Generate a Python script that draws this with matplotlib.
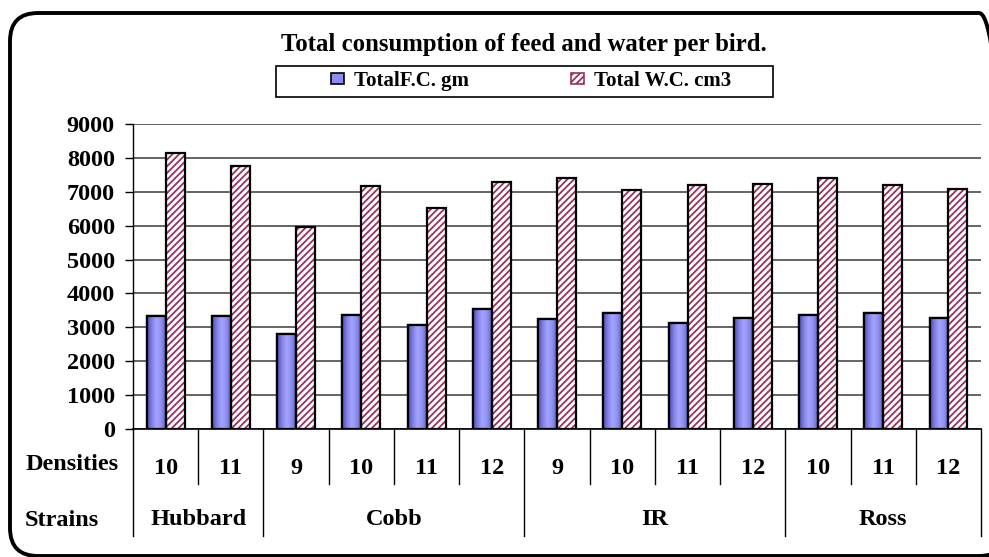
import numpy as np
import matplotlib
matplotlib.use('Agg')
import matplotlib.pyplot as plt
from matplotlib.colors import LinearSegmentedColormap
from matplotlib.patches import FancyBboxPatch, Rectangle
from matplotlib.lines import Line2D

plt.rcParams['font.family'] = ['Liberation Serif', 'DejaVu Serif']
plt.rcParams['font.weight'] = 'bold'
plt.rcParams['hatch.linewidth'] = 1.3

# data
strains = ['Hubbard', 'Cobb', 'IR', 'Ross']
densities = [[10, 11], [9, 10, 11, 12], [9, 10, 11, 12], [10, 11, 12]]
feed = [3330, 3330, 2800, 3360, 3070, 3540, 3250, 3430, 3130, 3290, 3350, 3410, 3290]
water = [8130, 7770, 5950, 7180, 6530, 7280, 7410, 7060, 7190, 7240, 7420, 7190, 7070]
yticks = [0, 1000, 2000, 3000, 4000, 5000, 6000, 7000, 8000, 9000]

W, H = 989, 557
fig = plt.figure(figsize=(W / 100, H / 100), dpi=100)
ax = fig.add_axes([0.1345, 0.2298, 0.8575, 0.5476])

n = len(feed)
x = np.arange(n)
w = 0.29
blue = '#8C8CF2'
maroon = '#9B2F5E'

b1 = ax.bar(x - w, feed, width=w, align='edge', color=blue,
            edgecolor='black', linewidth=1.6, zorder=3, label='TotalF.C. gm')
# hatch takes the edge colour, so draw maroon hatch first and the black outline on top
b2 = ax.bar(x, water, width=w, align='edge', facecolor='white', hatch='/////',
            edgecolor=maroon, linewidth=0, zorder=3, label='Total W.C. cm3')
for r in b2:
    ax.add_patch(Rectangle((r.get_x(), 0), r.get_width(), r.get_height(),
                           fill=False, edgecolor='black', linewidth=1.6, zorder=4))

# cylinder-like shading on the feed bars
ax.set_autoscale_on(False)
cyl = LinearSegmentedColormap.from_list('cyl', ['#4E4EA8', '#8080E6', '#A4A4FF', '#9090F4', '#6464C0'])
grad = np.linspace(0, 1, 64).reshape(1, -1)
for r in b1:
    ax.imshow(grad, extent=[r.get_x(), r.get_x() + r.get_width(), 0, r.get_height()],
              aspect='auto', cmap=cyl, zorder=3.5, interpolation='bilinear')
    ax.add_patch(Rectangle((r.get_x(), 0), r.get_width(), r.get_height(),
                           fill=False, edgecolor='black', linewidth=1.6, zorder=4))

ax.set_xlim(-0.5, n - 0.5)
ax.set_ylim(0, 9000)
ax.set_yticks(yticks)
ax.set_yticklabels([str(t) for t in yticks], fontsize=17.5, fontweight='bold')
ax.tick_params(axis='y', length=6, width=1, pad=7)
ax.set_xticks([])
ax.yaxis.grid(True, color='#3a3a3a', linewidth=1.1, zorder=0)
ax.set_axisbelow(True)
for s in ['top', 'right']:
    ax.spines[s].set_visible(False)
ax.spines['left'].set_linewidth(1)
ax.spines['bottom'].set_linewidth(1.2)

# table under the axis
tr = ax.get_xaxis_transform()
row1 = -0.180
row2 = -0.351
i = 0
bounds = [-0.5]
for strain, dens in zip(strains, densities):
    start = i
    for d in dens:
        ax.text(i, -0.128, str(d), transform=tr, ha='center', va='center',
                fontsize=17.5, fontweight='bold')
        if i > start:
            ax.add_line(Line2D([i - 0.5, i - 0.5], [0, row1], transform=tr,
                               color='black', linewidth=1, clip_on=False))
        i += 1
    ax.text((start + i - 1) / 2, -0.298, strain, transform=tr, ha='center', va='center',
            fontsize=17.5, fontweight='bold')
    bounds.append(i - 0.5)
for bx in bounds:
    ax.add_line(Line2D([bx, bx], [0, row2], transform=tr, color='black',
                       linewidth=1, clip_on=False))

fig.text(0.0725, 1 - 464 / H, 'Densities', ha='center', va='center',
         fontsize=17.5, fontweight='bold')
fig.text(0.025, 1 - 521 / H, 'Strains', ha='left', va='center',
         fontsize=17.5, fontweight='bold')

fig.text(0.5295, 1 - 44 / H, 'Total consumption of feed and water per bird.',
         ha='center', va='center', fontsize=17.8, fontweight='bold')

# legend without its own frame, box drawn separately to get the wide look
leg = fig.legend(handles=[b1, b2], loc='center left', bbox_to_anchor=(331 / W, 1 - 81 / H),
                 ncol=2, fontsize=15, frameon=False, borderpad=0, borderaxespad=0,
                 handlelength=0.6, handleheight=0.45, handletextpad=0.5, columnspacing=4.9)
h0, h1 = leg.legend_handles
h0.set_facecolor(blue)
h0.set_edgecolor('black')
h0.set_linewidth(1.2)
h1.set_edgecolor(maroon)
h1.set_linewidth(1.2)
fig.patches.append(Rectangle((276 / W, 1 - 97 / H), 497 / W, 31 / H, transform=fig.transFigure,
                             fill=False, edgecolor='black', linewidth=1.2))

# rounded outer border, right side runs off the picture
border = FancyBboxPatch((0.10, 0.01), 9.97, 5.43, boxstyle='round,pad=0,rounding_size=0.28',
                        transform=fig.dpi_scale_trans, fill=False, edgecolor='black',
                        linewidth=2.8)
fig.patches.append(border)

fig.savefig('out.png', dpi=100)
